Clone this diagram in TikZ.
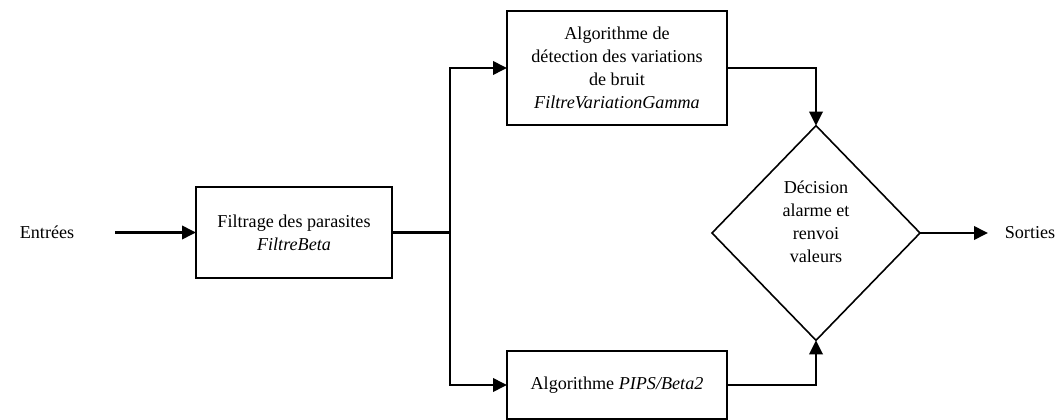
\documentclass[tikz,border=0pt]{standalone}
\usepackage{fontspec}
\setmainfont{Liberation Serif}
\usetikzlibrary{shapes.geometric,arrows.meta}
\begin{document}
\begin{tikzpicture}[x=0.75pt,y=-0.75pt,
  txt/.style={font=\fontsize{13.6}{17.2}\selectfont},
  box/.style={draw, line width=1.9pt, align=center, txt, inner sep=0pt, outer sep=0pt},
  dec/.style={draw, diamond, line width=1.2pt, inner sep=0pt, outer sep=0pt},
  conn/.style={line width=1.9pt, -{Triangle[length=10.5pt,width=10pt]}},
  wire/.style={line width=1.9pt}]
\useasboundingbox (0,0) rectangle (1059,420);
\node[txt] (in) at (47,232) {Entrées};
\coordinate (inS) at (115,232.5);
\node[box, minimum width=147pt, minimum height=68.25pt] (filt) at (294,232.5) {Filtrage des parasites\\\textit{FiltreBeta}};
\node[box, minimum width=165pt, minimum height=85.5pt] (gamma) at (617,68) {Algorithme de\\détection des variations\\de bruit\\\textit{FiltreVariationGamma}};
\node[box, minimum width=165pt, minimum height=51pt] (pips) at (617,385) {Algorithme \textit{PIPS/Beta2}};
\node[dec, minimum width=156pt, minimum height=161pt] (dec) at (816,233) {};
\node[txt, align=center] (dectext) at (816,222) {Décision\\alarme et\\renvoi\\valeurs};
\node[txt] (out) at (1030,233) {Sorties};
\coordinate (split) at (450,232.5);
\coordinate (outE) at (988,233);
\draw[conn] (inS) -- (filt.west);
\draw[wire] (filt.east) -- (split);
\draw[conn] (split) |- (gamma.west);
\draw[conn] (split) |- (pips.west);
\draw[conn] (gamma.east) -| (dec.north);
\draw[conn] (pips.east) -| (dec.south);
\draw[conn] (dec.east) -- (outE);
\end{tikzpicture}
\end{document}
